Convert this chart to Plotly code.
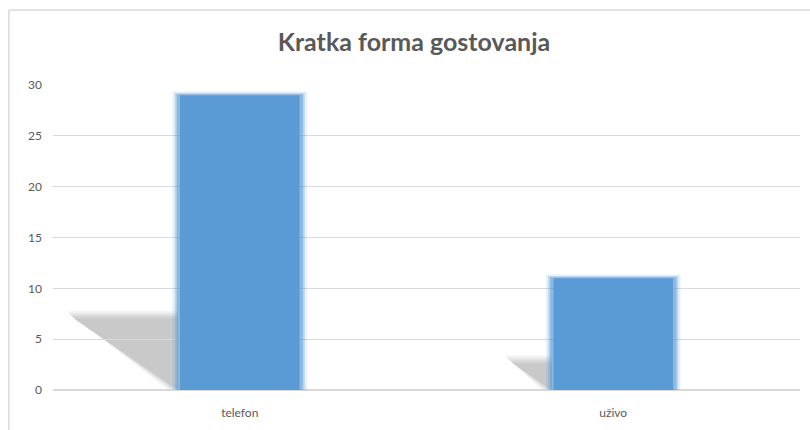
import plotly.graph_objects as go

categories = ["telefon", "uživo"]
values = [29, 11]
y_ticks = [0, 5, 10, 15, 20, 25, 30]

BAR_COLOR = "#5b9bd5"
TEXT_COLOR = "#595959"
GRID_COLOR = "#d9d9d9"

xpos = list(range(len(categories)))
bar_w = 0.33

fig = go.Figure()

for extra, alpha in [(0.03, 0.15), (0.018, 0.3), (0.008, 0.5)]:
    fig.add_trace(go.Bar(
        x=xpos, y=[v + extra * 12 for v in values], width=bar_w + extra,
        marker=dict(color=f"rgba(91,155,213,{alpha})", line=dict(width=0)),
        hoverinfo="skip", showlegend=False))

fig.add_trace(go.Bar(
    x=xpos, y=values, width=bar_w - 0.01,
    marker=dict(color=BAR_COLOR, line=dict(width=0)),
    name="", showlegend=False))

PLOT_W = 747
PX_X = 2.0 / PLOT_W
PX_Y = 30.0 / 305
shapes = []
for xi, v in zip(xpos, values):
    xl = xi - bar_w / 2
    top = 0.245 * v
    off = 0.0097 * v
    for e, col in [(7, "#f4f4f4"), (5, "#e9e9e9"), (3, "#dcdcdc"), (1, "#d0d0d0"), (-1, "#c9c9c9")]:
        tipx = xl - off - e * PX_X
        topy = top + e * PX_Y
        botx = xl - max(e, 0) * PX_X * 1.4
        path = (f"M {tipx},{topy} L {xl},{topy} L {xl},0 L {botx},0 Z")
        shapes.append(dict(type="path", path=path, xref="x", yref="y",
                           fillcolor=col, line=dict(width=0), layer="below"))

# outer chart border: only the left and top edges are visible
shapes.append(dict(type="line", xref="paper", yref="paper",
                   x0=-0.059, x1=-0.059, y0=-0.5, y1=1.246,
                   line=dict(color=GRID_COLOR, width=1.5), layer="below"))
shapes.append(dict(type="line", xref="paper", yref="paper",
                   x0=-0.059, x1=1.1, y0=1.246, y1=1.246,
                   line=dict(color=GRID_COLOR, width=1.5), layer="below"))

fig.update_layout(
    width=810, height=430,
    margin=dict(l=53, r=10, t=85, b=40),
    paper_bgcolor="white", plot_bgcolor="rgba(0,0,0,0)",
    barmode="overlay",
    shapes=shapes,
    title=dict(text="Kratka forma gostovanja", x=414 / 810, xref="container",
               y=1 - 42 / 430, yref="container", yanchor="middle", xanchor="center",
               font=dict(family="Lato", size=25, color=TEXT_COLOR, weight="bold")),
    font=dict(family="Lato", size=12, color=TEXT_COLOR),
)

fig.update_xaxes(
    range=[-0.5, 1.5], tickvals=xpos, ticktext=categories,
    showgrid=False, zeroline=False, showline=False,
    ticks="", ticklabelstandoff=14,
    tickfont=dict(family="Lato", size=12, color=TEXT_COLOR))

fig.update_yaxes(
    range=[0, 30], tickvals=y_ticks, showgrid=True, gridcolor=GRID_COLOR,
    gridwidth=1, zeroline=True, zerolinecolor=GRID_COLOR, zerolinewidth=1.5,
    showline=False, ticks="", ticklabelstandoff=10,
    tickfont=dict(family="Lato", size=12, color=TEXT_COLOR))

fig.write_html(
    "out.html",
    config={"displayModeBar": False},
    post_script="document.body.style.margin='0';document.body.style.overflow='hidden';",
)
